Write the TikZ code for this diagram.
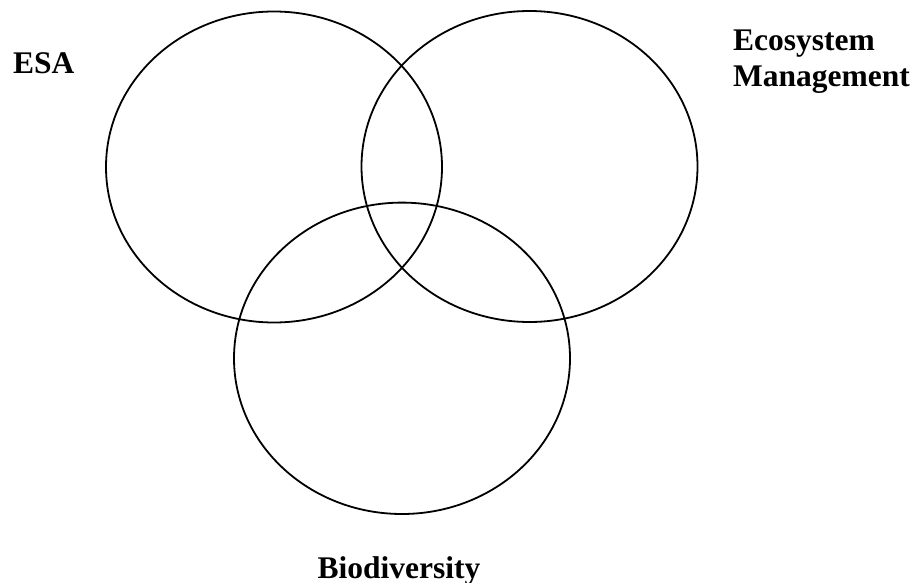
\documentclass[tikz,border=0pt]{standalone}
\usepackage{fontspec}
\setmainfont{Liberation Serif}
\begin{document}
\begin{tikzpicture}[x=1pt,y=-1pt,
  setring/.style={draw=black,line width=1.8pt},
  setlabel/.style={inner sep=0pt,font=\fontsize{31.5}{35.5}\selectfont\bfseries}]
\useasboundingbox (0,0) rectangle (915,583);
\draw[setring] (274,167) ellipse [x radius=168, y radius=155.5];
\draw[setring] (529.5,166.5) ellipse [x radius=168, y radius=155.5];
\draw[setring] (402,358.3) ellipse [x radius=168, y radius=155.7];
\node[setlabel,anchor=base west] (esa) at (13,74) {ESA};
\node[setlabel,anchor=north west,align=left] (eco) at (733,30) {Ecosystem\\Management};
\node[setlabel,anchor=base] (bio) at (399,578) {Biodiversity};
\end{tikzpicture}
\end{document}
